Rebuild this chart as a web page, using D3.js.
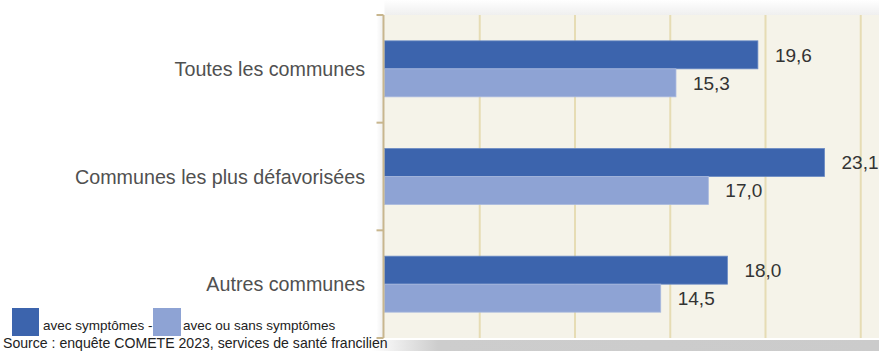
<!DOCTYPE html>
<html><head><meta charset="utf-8">
<script src="https://cdn.jsdelivr.net/npm/d3@7"></script>
<style>body{margin:0;background:#fff}svg{display:block;font-family:"Liberation Sans",Arial,sans-serif}</style>
</head><body><svg id="c" width="879" height="351"></svg>
<script>
const categories = ["Toutes les communes", "Communes les plus défavorisées", "Autres communes"];
const seriesNames = ["avec symptômes", "avec ou sans symptômes"];
const withSymptoms = [19.6, 23.1, 18.0];
const withOrWithout = [15.3, 17.0, 14.5];
const xTicks = [5, 10, 15, 20, 25];
const sourceText = "Source : enquête COMETE 2023, services de santé francilien";

const colors = ["#3c64ad", "#8ea3d4"];
const svg = d3.select("#c");
const W = 879, H = 351;
const x0 = 384.5, plotTop = 15, plotBottom = 338;

const x = d3.scaleLinear().domain([0, 25]).range([x0, x0 + 25 * 19.05]);
const y = d3.scaleBand().domain(categories).range([plotTop, plotBottom]).paddingInner(0).paddingOuter(0);
const ys = d3.scaleBand().domain(seriesNames).range([0, y.bandwidth()]).paddingInner(0).paddingOuter(0.923);

const defs = svg.append("defs");
const gb = defs.append("linearGradient").attr("id", "gb").attr("x1", 0).attr("x2", 1).attr("y1", 0).attr("y2", 0);
gb.append("stop").attr("offset", 0).attr("stop-color", "#ffffff");
gb.append("stop").attr("offset", 0.13).attr("stop-color", "#cdcdcd");
gb.append("stop").attr("offset", 1).attr("stop-color", "#cbcbcb");
const gt = defs.append("linearGradient").attr("id", "gt").attr("x1", 0).attr("x2", 0).attr("y1", 0).attr("y2", 1);
gt.append("stop").attr("offset", 0).attr("stop-color", "#ffffff");
gt.append("stop").attr("offset", 1).attr("stop-color", "#efefef");
const gl = defs.append("linearGradient").attr("id", "gl").attr("x1", 0).attr("x2", 1).attr("y1", 0).attr("y2", 0);
gl.append("stop").attr("offset", 0).attr("stop-color", "#ffffff");
gl.append("stop").attr("offset", 1).attr("stop-color", "#ececec");

// shadows
svg.append("rect").attr("x", x0).attr("y", 0).attr("width", W - x0).attr("height", plotTop).attr("fill", "url(#gt)");
svg.append("rect").attr("x", x0 - 8).attr("y", plotTop).attr("width", 8).attr("height", plotBottom - plotTop).attr("fill", "url(#gl)");
svg.append("rect").attr("x", 372).attr("y", 340).attr("width", W - 372).attr("height", 11).attr("fill", "url(#gb)");

// plot background
svg.append("rect").attr("x", x0).attr("y", plotTop).attr("width", W - x0).attr("height", plotBottom - plotTop).attr("fill", "#f5f3e9");

// grid
svg.append("g").selectAll("line").data(xTicks).join("line")
  .attr("x1", d => x(d)).attr("x2", d => x(d))
  .attr("y1", plotTop).attr("y2", plotBottom)
  .attr("stroke", "#e6dcb4").attr("stroke-width", 2);

// bars
const series = [withSymptoms, withOrWithout];
const g = svg.append("g");
categories.forEach((c, i) => {
  seriesNames.forEach((s, j) => {
    const v = series[j][i];
    g.append("rect")
      .attr("x", x(0)).attr("y", y(c) + ys(s))
      .attr("width", x(v) - x(0)).attr("height", ys.bandwidth())
      .attr("fill", colors[j]).attr("stroke", j === 0 ? "#6a8ac4" : "#a9b9de").attr("stroke-width", 0.8);
    g.append("text")
      .attr("x", x(v) + 17).attr("y", y(c) + ys(s) + ys.bandwidth() / 2)
      .attr("dy", "0.36em").attr("font-size", 19).attr("fill", "#333")
      .text(d3.format(".1f")(v).replace(".", ","));
  });
});

// left axis
const ax = svg.append("g").attr("stroke", "#c8b68e").attr("stroke-width", 2);
ax.append("line").attr("x1", x0 - 1).attr("x2", x0 - 1).attr("y1", plotTop).attr("y2", plotBottom);
const bounds = [plotTop].concat(categories.map(c => y(c) + y.bandwidth()));
ax.selectAll(".t").data(bounds).join("line")
  .attr("x1", x0 - 8).attr("x2", x0 - 1).attr("y1", d => d).attr("y2", d => d);

// category labels
svg.append("g").selectAll("text").data(categories).join("text")
  .attr("x", 365).attr("y", d => y(d) + y.bandwidth() / 2)
  .attr("dy", "0.36em").attr("text-anchor", "end")
  .attr("font-size", 19.7).attr("fill", "#505050").text(d => d);

// legend
const lg = svg.append("g");
lg.append("rect").attr("x", 12).attr("y", 308).attr("width", 27).attr("height", 28).attr("fill", colors[0]);
lg.append("text").attr("x", 43).attr("y", 330).attr("font-size", 13.5).attr("fill", "#222").text(seriesNames[0] + " -");
lg.append("rect").attr("x", 153).attr("y", 308).attr("width", 28).attr("height", 28).attr("fill", colors[1]);
lg.append("text").attr("x", 183).attr("y", 330).attr("font-size", 13.5).attr("fill", "#222").text(seriesNames[1]);
svg.append("text").attr("x", 3).attr("y", 348).attr("font-size", 14.1).attr("fill", "#222").text(sourceText);
</script></body></html>
